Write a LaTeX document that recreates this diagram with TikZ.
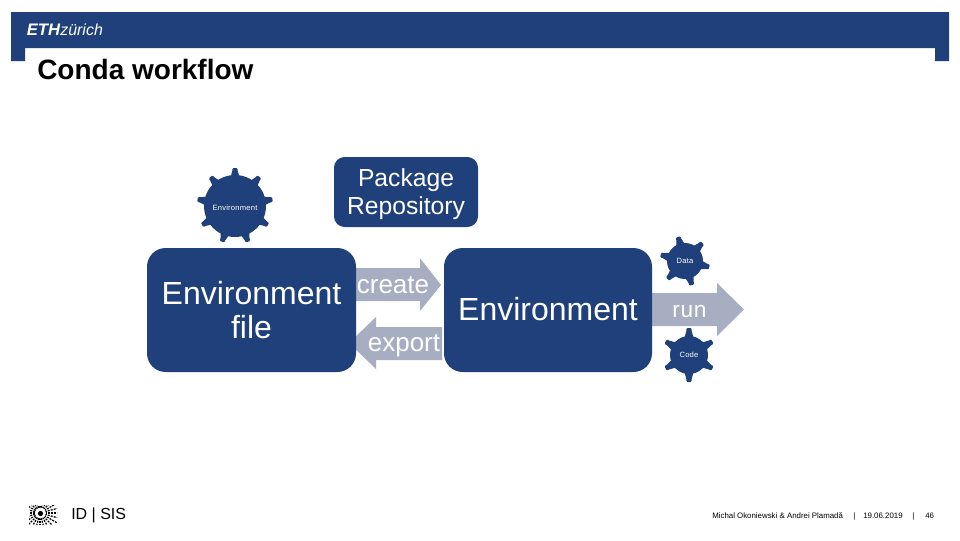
\documentclass[tikz,border=0pt]{standalone}
\usepackage{fontspec}
\setmainfont{Liberation Sans}
\definecolor{ethblue}{HTML}{1F407A}
\definecolor{arrowgrey}{HTML}{A8AEC2}
\newcommand{\gearshape}[6]{% cx cy body tooth n start
  \fill[ethblue] (#1,#2) circle[radius=#3];
  \foreach \k in {1,...,#5}{
    \pgfmathsetmacro{\ang}{#6+360*(\k-1)/#5}
    \fill[ethblue,shift={(#1,#2)},rotate=\ang,rounded corners=0.8]
      (#3-2,-4.5) -- (#4-2,-2.4) -- (#4,-2.6) -- (#4,2.6) -- (#4-2,2.4) -- (#3-2,4.5) -- cycle;
  }}
\tikzset{
  bluebox/.style={fill=ethblue,rounded corners=#1},
  boxtext/.style={text=white,align=center,inner sep=0pt},
  geartext/.style={text=white,inner sep=0pt,font=\fontsize{5.7}{7}\selectfont\addfontfeatures{LetterSpace=3}},
  grey arrow/.style={fill=arrowgrey},
  foot/.style={inner sep=0pt,anchor=base west,font=\fontsize{5.9}{7}\selectfont}
}
\begin{document}
\begin{tikzpicture}[x=0.75pt,y=-0.75pt]
\useasboundingbox (0,0) rectangle (960,540);
\fill[white] (0,0) rectangle (960,540);
% header band
\fill[ethblue] (11,12) -- (949,12) -- (949,61) -- (935,61) -- (935,48) -- (25,48) -- (25,61) -- (11,61) -- cycle;
\node[text=white,inner sep=0pt,anchor=base west,font=\fontsize{12.5}{14}\selectfont\bfseries\itshape] (eth) at (26.5,35.5) {ETH};
\node[text=white,inner sep=0pt,anchor=base west,font=\fontsize{12}{14}\selectfont\itshape] (zurich) at (60,35.5) {zürich};
\node[inner sep=0pt,anchor=base west,font=\fontsize{21}{24}\selectfont\bfseries] (title) at (37,79) {Conda workflow};
% arrows
\fill[grey arrow] (355,268) -- (420,268) -- (420,258) -- (441,285) -- (420,311) -- (420,301) -- (355,301) -- cycle;
\fill[grey arrow] (442,327) -- (376,327) -- (376,317) -- (349,343) -- (376,369) -- (376,360) -- (442,360) -- cycle;
\fill[grey arrow] (651,293) -- (717,293) -- (717,283) -- (744,309.5) -- (717,336) -- (717,326) -- (651,326) -- cycle;
% boxes
\fill[bluebox=8] (334,157) rectangle (478,227);
\fill[bluebox=14] (147,248) rectangle (356,372);
\fill[bluebox=14] (444,248) rectangle (652,372);
\node[boxtext,font=\fontsize{18.5}{20.5}\selectfont] (repo) at (406,194) {Package\\Repository};
\node[boxtext,font=\fontsize{24}{26}\selectfont] (envfile) at (251.5,310) {Environment\\file};
\node[boxtext,font=\fontsize{24}{26}\selectfont] (env) at (548,309.5) {Environment};
\node[boxtext,font=\fontsize{19.5}{22}\selectfont] (create) at (393,285) {create};
\node[boxtext,font=\fontsize{19.5}{22}\selectfont] (export) at (404,346) {export};
\node[boxtext,font=\fontsize{17}{20}\selectfont\addfontfeatures{LetterSpace=3}] (run) at (689.5,312) {run};
% gears
\gearshape{235}{206}{31}{38}{9}{90}
\gearshape{685}{261}{18}{25}{6}{106}
\gearshape{689}{355}{19}{27}{6}{90}
\node[geartext] (genv) at (235,207.5) {Environment};
\node[geartext] (gdata) at (685,261) {Data};
\node[geartext] (gcode) at (689,355) {Code};
% footer logo
\begin{scope}
\clip (29,505) rectangle (57,524);
\foreach \a in {0,15,...,345}{
  \draw[black,line width=0.9pt,dash pattern=on 1.5pt off 0.8pt] (40,513)+(\a:5) -- +(\a:30);
}
\fill[white] (40.5,513) circle[radius=5.5];
\fill[black] (40.5,513.5) circle[radius=2.6];
\end{scope}
\node[inner sep=0pt,anchor=base west,font=\fontsize{12}{14}\selectfont] (idsis) at (71,519.5) {ID | SIS};
\node[foot] (authors) at (712,518) {Michal Okoniewski \& Andrei Plamadă};
\node[foot] (sep1) at (853,518) {|};
\node[foot] (date) at (863,518) {19.06.2019};
\node[foot] (sep2) at (912,518) {|};
\node[foot] (page) at (925,518) {46};
\end{tikzpicture}
\end{document}
